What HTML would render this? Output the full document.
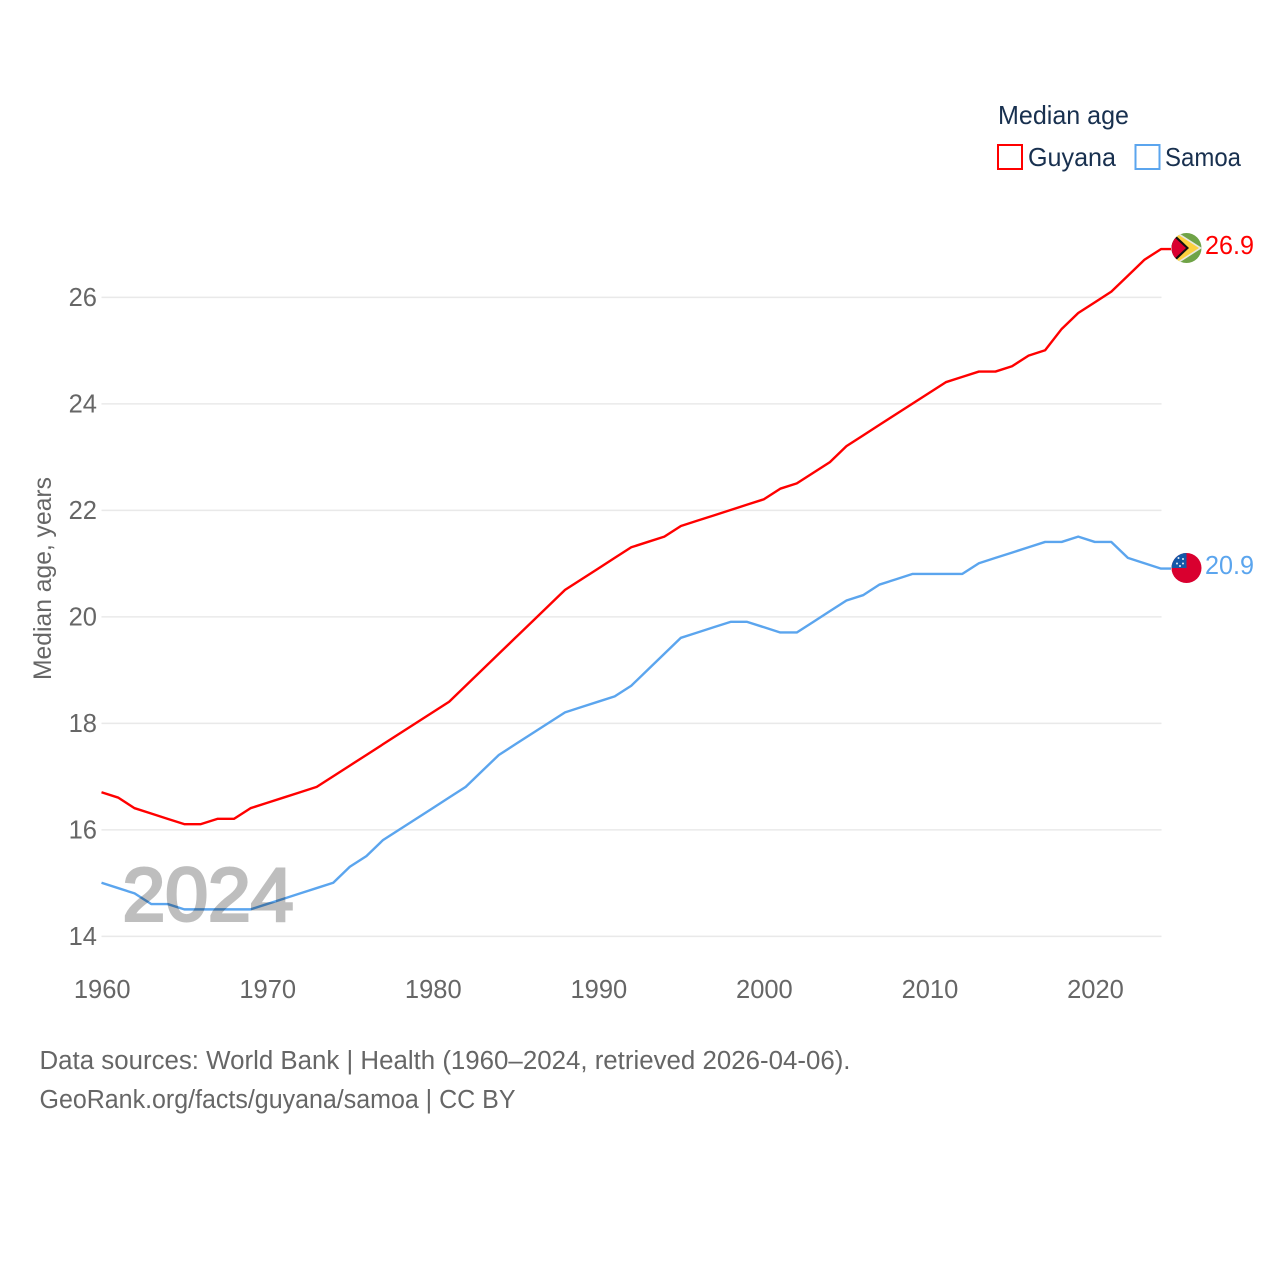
<!DOCTYPE html>
<html lang="en">
<head>
<meta charset="utf-8">
<title>Median age: Guyana and Samoa</title>
<style>
html,body{margin:0;padding:0;background:#fff}
svg{display:block}
text{font-family:"Liberation Sans",sans-serif}
</style>
</head>
<body>
<svg id="chart" width="1280" height="1280" viewBox="0 0 1280 1280" xmlns="http://www.w3.org/2000/svg">
  <defs>
    <clipPath id="clip-guyana"><circle cx="1186.5" cy="248" r="15"/></clipPath>
    <clipPath id="clip-samoa"><circle cx="1186.5" cy="568" r="15"/></clipPath>
  </defs>
  <rect width="1280" height="1280" fill="#fff"/>
  <g id="grid"></g>
  <g id="yticks"></g>
  <g id="xticks"></g>
  <text transform="translate(51,680) rotate(-90)" font-size="25" fill="#666" textLength="203" lengthAdjust="spacingAndGlyphs">Median age, years</text>
  <g id="lines"></g>
  <text x="122.5" y="920.5" font-size="75" fill="#000" stroke="#000" stroke-width="3" opacity="0.25" textLength="171" lengthAdjust="spacingAndGlyphs">2024</text>

  <g>
    <text x="998" y="124" font-size="26" fill="#18304f" textLength="131" lengthAdjust="spacingAndGlyphs">Median age</text>
    <g>
      <rect x="998" y="145" width="24" height="24" fill="none" stroke="#ff0000" stroke-width="2"/>
      <text x="1028" y="166" font-size="26" fill="#18304f" textLength="88" lengthAdjust="spacingAndGlyphs">Guyana</text>
    </g>
    <g>
      <rect x="1135.5" y="145" width="24" height="24" fill="none" stroke="#5ba5ee" stroke-width="2"/>
      <text x="1165" y="166" font-size="26" fill="#18304f" textLength="76" lengthAdjust="spacingAndGlyphs">Samoa</text>
    </g>
  </g>

  <g clip-path="url(#clip-guyana)">
    <rect x="1171" y="232" width="31" height="32" fill="#6fa347"/>
    <polygon points="1171,228 1202,248 1171,268" fill="#e8e8e0"/>
    <polygon points="1171,230 1199,248 1171,266" fill="#fcd13f"/>
    <polygon points="1171,231 1189,248 1171,265" fill="#111"/>
    <polygon points="1171,234 1186,248 1171,262" fill="#d9002f"/>
  </g>
  <text x="1205" y="254" font-size="26" fill="#ff0000" textLength="49" lengthAdjust="spacingAndGlyphs">26.9</text>

  <g clip-path="url(#clip-samoa)">
    <rect x="1171" y="552" width="31" height="32" fill="#d9002f"/>
    <rect x="1171" y="552" width="15.5" height="16" fill="#1458a8"/>
    <circle cx="1178.5" cy="558" r="1" fill="#e4ecf6"/>
    <circle cx="1183" cy="559" r="1" fill="#e4ecf6"/>
    <circle cx="1177" cy="563.5" r="1" fill="#e4ecf6"/>
    <circle cx="1183" cy="563.5" r="1" fill="#e4ecf6"/>
    <circle cx="1180" cy="566" r="1" fill="#e4ecf6"/>
  </g>
  <text x="1205" y="574" font-size="26" fill="#5ba5ee" textLength="49" lengthAdjust="spacingAndGlyphs">20.9</text>

  <text x="39.5" y="1069" font-size="25.5" fill="#666" textLength="811" lengthAdjust="spacingAndGlyphs">Data sources: World Bank | Health (1960–2024, retrieved 2026-04-06).</text>
  <text x="39.5" y="1108" font-size="25.5" fill="#666" textLength="476" lengthAdjust="spacingAndGlyphs">GeoRank.org/facts/guyana/samoa | CC BY</text>
</svg>
<script>
const years = [1960,1961,1962,1963,1964,1965,1966,1967,1968,1969,1970,1971,1972,1973,1974,1975,1976,1977,1978,1979,1980,1981,1982,1983,1984,1985,1986,1987,1988,1989,1990,1991,1992,1993,1994,1995,1996,1997,1998,1999,2000,2001,2002,2003,2004,2005,2006,2007,2008,2009,2010,2011,2012,2013,2014,2015,2016,2017,2018,2019,2020,2021,2022,2023,2024];
const guyana = [16.7,16.6,16.4,16.3,16.2,16.1,16.1,16.2,16.2,16.4,16.5,16.6,16.7,16.8,17.0,17.2,17.4,17.6,17.8,18.0,18.2,18.4,18.7,19.0,19.3,19.6,19.9,20.2,20.5,20.7,20.9,21.1,21.3,21.4,21.5,21.7,21.8,21.9,22.0,22.1,22.2,22.4,22.5,22.7,22.9,23.2,23.4,23.6,23.8,24.0,24.2,24.4,24.5,24.6,24.6,24.7,24.9,25.0,25.4,25.7,25.9,26.1,26.4,26.7,26.9];
const samoa = [15.0,14.9,14.8,14.6,14.6,14.5,14.5,14.5,14.5,14.5,14.6,14.7,14.8,14.9,15.0,15.3,15.5,15.8,16.0,16.2,16.4,16.6,16.8,17.1,17.4,17.6,17.8,18.0,18.2,18.3,18.4,18.5,18.7,19.0,19.3,19.6,19.7,19.8,19.9,19.9,19.8,19.7,19.7,19.9,20.1,20.3,20.4,20.6,20.7,20.8,20.8,20.8,20.8,21.0,21.1,21.2,21.3,21.4,21.4,21.5,21.4,21.4,21.1,21.0,20.9];
const yTickValues = [14,16,18,20,22,24,26];
const xTickValues = [1960,1970,1980,1990,2000,2010,2020];

const NS = 'http://www.w3.org/2000/svg';
function xScale(year) { return 101.5 + (year - 1960) * (1161 - 101.5) / 64; }
function yScale(v) { return 936 - (v - 14) * (936 - 297) / 12; }

const grid = document.getElementById('grid');
const yticks = document.getElementById('yticks');
const xticks = document.getElementById('xticks');
const lines = document.getElementById('lines');

yTickValues.forEach(function (v) {
  const gl = document.createElementNS(NS, 'line');
  
  
  gl.setAttribute('x1', xScale(1960));
  gl.setAttribute('x2', xScale(2024) + 0.5);
  gl.setAttribute('y1', yScale(v) + 0.4);
  gl.setAttribute('y2', yScale(v) + 0.4);
  gl.setAttribute('stroke', '#e9e9e9');
  gl.setAttribute('stroke-width', '1.5');
  grid.appendChild(gl);

  const t = document.createElementNS(NS, 'text');
  
  
  t.setAttribute('x', 97);
  t.setAttribute('y', yScale(v) + 9);
  t.setAttribute('text-anchor', 'end');
  t.setAttribute('font-size', '25.5');
  t.setAttribute('fill', '#666');
  t.textContent = v;
  yticks.appendChild(t);
});

xTickValues.forEach(function (y) {
  const t = document.createElementNS(NS, 'text');
  
  
  t.setAttribute('x', xScale(y) + 0.7);
  t.setAttribute('y', 998);
  t.setAttribute('text-anchor', 'middle');
  t.setAttribute('font-size', '25.5');
  t.setAttribute('fill', '#666');
  t.textContent = y;
  xticks.appendChild(t);
});

function drawSeries(values, color, name) {
  const last = values[values.length - 1];
  const p = document.createElementNS(NS, 'polyline');
  
  
  const pts = values.map(function (v, i) {
    return xScale(years[i]).toFixed(2) + ',' + yScale(v).toFixed(2);
  });
  pts.push('1171,' + yScale(last).toFixed(2));
  p.setAttribute('points', pts.join(' '));
  p.setAttribute('fill', 'none');
  p.setAttribute('stroke', color);
  p.setAttribute('stroke-width', '2.4');
  p.setAttribute('stroke-linejoin', 'round');
  lines.appendChild(p);
}
drawSeries(guyana, '#ff0000', 'line-guyana');
drawSeries(samoa, '#5ba5ee', 'line-samoa');
</script>
</body>
</html>
